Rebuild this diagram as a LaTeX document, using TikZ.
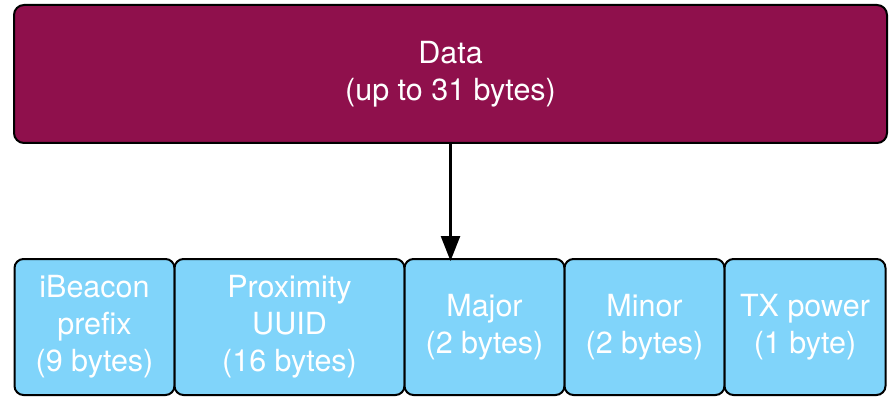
\documentclass[tikz,border=0pt]{standalone}
\usepackage{fontspec}
\setmainfont{TeX Gyre Heros}
\usetikzlibrary{arrows.meta}
\definecolor{datafill}{RGB}{143,16,76}
\definecolor{fieldfill}{RGB}{128,212,250}
\tikzset{
  databox/.style={draw=black, line width=2pt, fill=datafill, rounded corners=10pt,
    text=white, align=center, inner sep=0pt, font=\fontsize{30.5}{37}\selectfont},
  fieldbox/.style={draw=black, line width=2pt, fill=fieldfill, rounded corners=9pt,
    text=white, align=center, inner sep=0pt, minimum height=136pt, font=\fontsize{30.5}{37}\selectfont},
  conn/.style={line width=2.5pt, -{Triangle[length=25pt,width=19pt]}}
}
\begin{document}
\begin{tikzpicture}[x=1pt,y=-1pt]
\useasboundingbox (0,0) rectangle (895,409);
\node[databox, minimum width=873pt, minimum height=138pt] (data) at (450.5,74) {Data\\(up to 31 bytes)};
\node[fieldbox, minimum width=160pt] (f1) at (94.5,327) {iBeacon\\prefix\\(9 bytes)};
\node[fieldbox, minimum width=230pt] (f2) at (289.5,327) {Proximity\\UUID\\(16 bytes)};
\node[fieldbox, minimum width=160pt] (f3) at (484.5,327) {Major\\(2 bytes)};
\node[fieldbox, minimum width=160pt] (f4) at (644.5,327) {Minor\\(2 bytes)};
\node[fieldbox, minimum width=161pt] (f5) at (805,327) {TX power\\(1 byte)};
\coordinate (tip) at ([yshift=-3pt]data.south |- f3.north);
\draw[conn] (data.south) -- (tip);
\end{tikzpicture}
\end{document}
